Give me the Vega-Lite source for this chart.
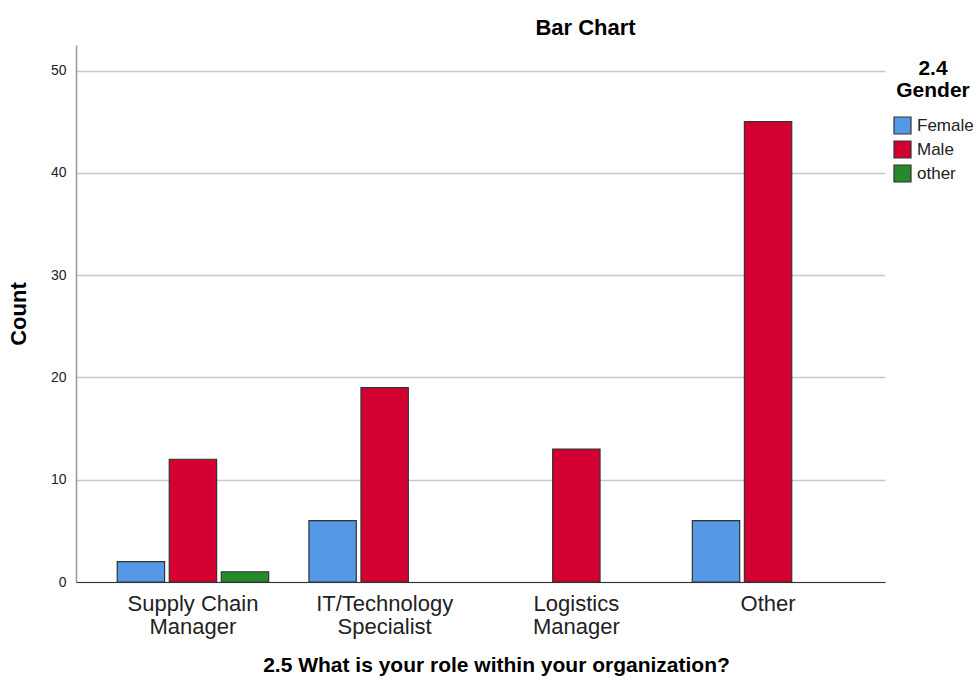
{
  "$schema": "https://vega.github.io/schema/vega-lite/v6.json",
  "width": 809,
  "height": 537,
  "autosize": {"type": "none"},
  "padding": {"left": 76, "top": 45, "right": 92, "bottom": 102},
  "background": "white",
  "config": {
    "font": "Liberation Sans",
    "view": {"stroke": null}
  },
  "title": {
    "text": "Bar Chart",
    "fontSize": 22,
    "fontWeight": "bold",
    "font": "Liberation Sans",
    "color": "#000",
    "anchor": "middle",
    "dx": 105,
    "offset": 5
  },
  "data": {
    "values": [
      {"role": "Supply Chain Manager", "gender": "Female", "count": 2},
      {"role": "Supply Chain Manager", "gender": "Male", "count": 12},
      {"role": "Supply Chain Manager", "gender": "other", "count": 1},
      {"role": "IT/Technology Specialist", "gender": "Female", "count": 6},
      {"role": "IT/Technology Specialist", "gender": "Male", "count": 19},
      {"role": "Logistics Manager", "gender": "Male", "count": 13},
      {"role": "Other", "gender": "Female", "count": 6},
      {"role": "Other", "gender": "Male", "count": 45}
    ]
  },
  "mark": {"type": "bar", "stroke": "#333333", "strokeWidth": 1.2},
  "encoding": {
    "x": {
      "field": "role",
      "type": "nominal",
      "sort": ["Supply Chain Manager", "IT/Technology Specialist", "Logistics Manager", "Other"],
      "scale": {"paddingInner": 0.21, "paddingOuter": 0.215},
      "axis": {
        "title": "2.5 What is your role within your organization?",
        "titleFontSize": 21,
        "titleFontWeight": "bold",
        "titleColor": "#000",
        "titleX": 420,
        "titleY": 72,
        "labelAngle": 0,
        "labelFontSize": 22,
        "labelColor": "#222",
        "labelPadding": 11,
        "labelLineHeight": 23,
        "labelExpr": "datum.label == 'Supply Chain Manager' ? ['Supply Chain', 'Manager'] : datum.label == 'IT/Technology Specialist' ? ['IT/Technology', 'Specialist'] : datum.label == 'Logistics Manager' ? ['Logistics', 'Manager'] : datum.label",
        "ticks": false,
        "domainColor": "#333333",
        "domainWidth": 1
      }
    },
    "xOffset": {
      "field": "gender",
      "type": "nominal",
      "sort": ["Female", "Male", "other"],
      "scale": {"paddingInner": 0.09, "paddingOuter": 0}
    },
    "y": {
      "field": "count",
      "type": "quantitative",
      "scale": {"domain": [0, 52.5], "nice": false},
      "axis": {
        "title": "Count",
        "titleFontSize": 22,
        "titleFontWeight": "bold",
        "titleColor": "#000",
        "titlePadding": 20,
        "values": [0, 10, 20, 30, 40, 50],
        "labelFontSize": 14,
        "labelColor": "#222",
        "labelPadding": 10,
        "ticks": false,
        "grid": true,
        "gridColor": "#c8c8c8",
        "gridWidth": 1.5,
        "domainColor": "#999999",
        "domainWidth": 1.5
      }
    },
    "color": {
      "field": "gender",
      "type": "nominal",
      "scale": {
        "domain": ["Female", "Male", "other"],
        "range": ["#5599e6", "#d50032", "#258a2c"]
      },
      "legend": {
        "title": ["2.4", "Gender"],
        "titleFontSize": 21,
        "titleFontWeight": "bold",
        "titleColor": "#000",
        "titleAlign": "center",
        "titleAnchor": "middle",
        "titleLineHeight": 22,
        "titlePadding": 15,
        "orient": "none",
        "legendX": 817,
        "legendY": 13,
        "symbolType": "square",
        "symbolSize": 289,
        "symbolStrokeColor": "#333333",
        "symbolStrokeWidth": 1.2,
        "symbolOpacity": 1,
        "labelFontSize": 17,
        "labelColor": "#222",
        "labelOffset": 5,
        "rowPadding": 1
      }
    }
  }
}
